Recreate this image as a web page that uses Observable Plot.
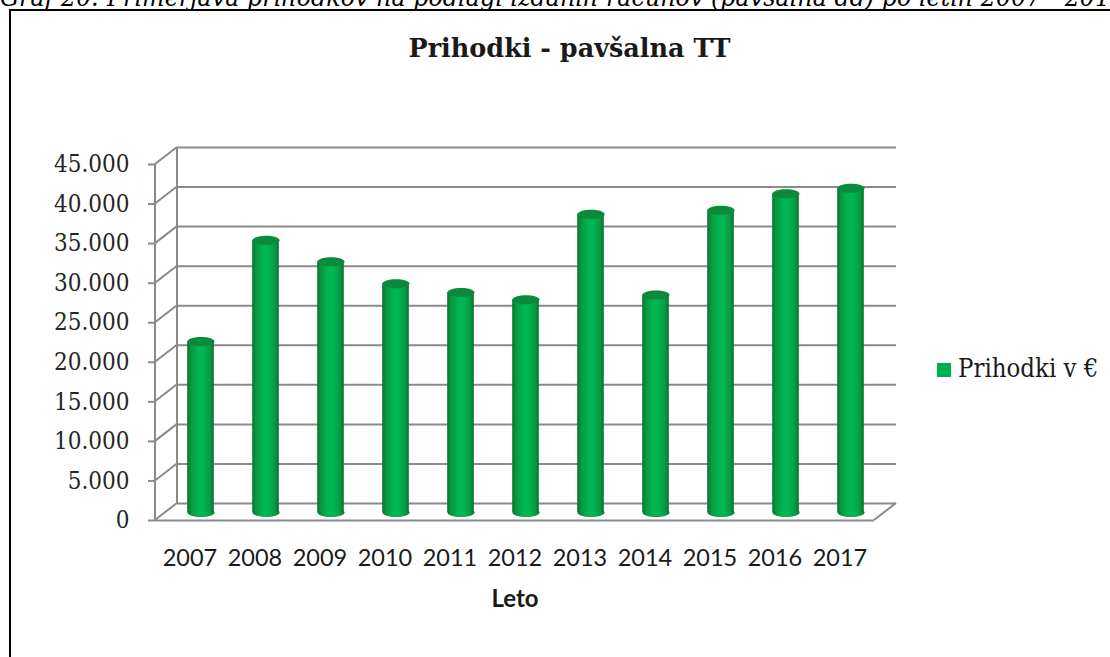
<!DOCTYPE html>
<html>
<head>
<meta charset="utf-8">
<script src="https://cdn.jsdelivr.net/npm/d3@7"></script>
<script src="https://cdn.jsdelivr.net/npm/@observablehq/plot@0.6"></script>
<style>
  html, body { margin: 0; padding: 0; background: #fff; }
  body { width: 1110px; height: 657px; overflow: hidden; position: relative; }
  #box { position: absolute; left: 9px; top: 9px; width: 1300px; height: 900px; border: 2px solid #000; box-sizing: border-box; }
  #cap { position: absolute; white-space: nowrap; font-family: "DejaVu Serif Condensed", "DejaVu Serif", serif; font-style: italic; line-height: 1; color: #000; font-size: 22px; }
  #title { position: absolute; left: 0; width: 1139px; text-align: center; font-family: "DejaVu Serif", serif; font-weight: bold; font-size: 25.5px; line-height: 1; top: 36px; color: #1a1a1a; }
  #chart { position: absolute; left: 0; top: 0; }
  #legend { position: absolute; left: 937px; top: 356px; font-family: "DejaVu Serif Condensed", "DejaVu Serif", serif; font-size: 25.5px; line-height: 1; color: #1a1a1a; white-space: nowrap; }
  #legend .sw { display: inline-block; width: 14px; height: 14px; background: #00b050; margin-right: 7px; vertical-align: 0px; }
</style>
</head>
<body>
<svg width="0" height="0" style="position:absolute">
  <defs>
    <linearGradient id="cyl" x1="0" x2="1" y1="0" y2="0">
      <stop offset="0" stop-color="#06742f"/>
      <stop offset="0.14" stop-color="#0a963f"/>
      <stop offset="0.42" stop-color="#00b552"/>
      <stop offset="0.6" stop-color="#00b552"/>
      <stop offset="0.86" stop-color="#089a42"/>
      <stop offset="1" stop-color="#06722f"/>
    </linearGradient>
  </defs>
</svg>
<div id="box"></div>
<div id="cap"><span id="capPre"></span><span id="capMid"></span><span id="capPost"></span></div>
<div id="title"></div>
<div id="chart"></div>
<div id="legend"><span class="sw"></span><span id="legendText"></span></div>
<script>
// ---- data ----
const captionPre = "Graf 20: ";
const captionMid = "Primerjava prihodkov na podlagi";
const captionPost = " izdanih računov (pavšalna dd) po letih 2007 - 2017";
const chartTitle = "Prihodki - pavšalna TT";
const seriesName = "Prihodki v €";
const xLabel = "Leto";
const years = ["2007", "2008", "2009", "2010", "2011", "2012", "2013", "2014", "2015", "2016", "2017"];
const revenues = [21600, 34400, 31700, 28900, 27800, 26900, 37700, 27500, 38200, 40300, 41000];
const yTicks = [0, 5000, 10000, 15000, 20000, 25000, 30000, 35000, 40000, 45000];

const data = years.map((year, i) => ({year, value: revenues[i]}));

// ---- text ----
document.getElementById("capPre").textContent = captionPre;
document.getElementById("capMid").textContent = captionMid;
document.getElementById("capPost").textContent = captionPost;
document.getElementById("title").textContent = chartTitle;
document.getElementById("legendText").textContent = seriesName;

// fit caption (only its lower part is visible, cut by the page top)
(function fitCaption() {
  const cap = document.getElementById("cap");
  const mid = document.getElementById("capMid");
  let fs = 22;
  cap.style.fontSize = fs + "px";
  const w = mid.getBoundingClientRect().width;
  fs = fs * 396 / w;
  cap.style.fontSize = fs + "px";
  const preW = document.getElementById("capPre").getBoundingClientRect().width;
  cap.style.left = (107 - preW) + "px";
  cap.style.top = (6.5 - 0.846 * fs) + "px";
})();

// ---- 3D look helpers ----
const GRID = "#8a8a8a";
const BACK_DX = 22, BACK_DY = -17;   // back wall offset
const BAR_DX = 11, BAR_DY = -8;      // bars sit mid-depth

const ellipse = {
  draw(ctx) {
    const rx = 13.5, ry = 4.5, k = 0.5523;
    ctx.moveTo(rx, 0);
    ctx.bezierCurveTo(rx, ry * k, rx * k, ry, 0, ry);
    ctx.bezierCurveTo(-rx * k, ry, -rx, ry * k, -rx, 0);
    ctx.bezierCurveTo(-rx, -ry * k, -rx * k, -ry, 0, -ry);
    ctx.bezierCurveTo(rx * k, -ry, rx, -ry * k, rx, 0);
    ctx.closePath();
  }
};

function frame3d(index, scales, values, dims) {
  const g = d3.create("svg:g").attr("stroke", GRID).attr("stroke-width", 2).attr("fill", "none");
  const x0 = dims.marginLeft, x1 = dims.width - dims.marginRight;
  const yTop = scales.y(yTicks[yTicks.length - 1]), yBot = scales.y(0);
  for (const t of yTicks) {
    const y = scales.y(t);
    g.append("line").attr("x1", x0).attr("y1", y).attr("x2", x0 + BACK_DX).attr("y2", y + BACK_DY);
  }
  g.append("line").attr("x1", x0 + BACK_DX).attr("y1", yTop + BACK_DY).attr("x2", x0 + BACK_DX).attr("y2", yBot + BACK_DY);
  g.append("line").attr("x1", x0).attr("y1", yTop).attr("x2", x0).attr("y2", yBot);
  g.append("line").attr("x1", x1).attr("y1", yBot).attr("x2", x1 + BACK_DX).attr("y2", yBot + BACK_DY);
  return g.node();
}

const fmt = d => d === 0 ? "0" : d3.format(",")(d).replace(/,/g, ".");

const chart = Plot.plot({
  width: 1110,
  height: 640,
  marginLeft: 155,
  marginRight: 236,
  marginTop: 164,
  marginBottom: 120,
  x: {type: "band", domain: years, padding: 0, axis: null},
  y: {domain: [0, 45000], axis: null},
  style: {background: "transparent", color: "#262626", overflow: "visible"},
  marks: [
    Plot.ruleY(yTicks, {dx: BACK_DX, dy: BACK_DY, stroke: GRID, strokeWidth: 2}),
    frame3d,
    Plot.ruleY([0], {stroke: GRID, strokeWidth: 2}),
    Plot.axisY(yTicks, {
      label: null,
      tickSize: 7, tickPadding: 19, tickFormat: fmt,
      stroke: GRID, strokeWidth: 2, fill: "#262626",
      fontSize: 24, fontFamily: "DejaVu Serif Condensed, DejaVu Serif, serif"
    }),
    Plot.axisX({
      label: null,
      tickSize: 0, tickPadding: 29, fill: "#1a1a1a",
      fontSize: 23.5, fontFamily: "Lato, sans-serif"
    }),
    Plot.dot(data, {x: "year", y: () => 0, symbol: ellipse, fill: "url(#cyl)", dx: BAR_DX, dy: BAR_DY}),
    Plot.barY(data, {x: "year", y: "value", fill: "url(#cyl)", dx: BAR_DX, dy: BAR_DY, insetLeft: 19.2, insetRight: 19.2}),
    Plot.dot(data, {x: "year", y: "value", symbol: ellipse, fill: "#0a8b3c", dx: BAR_DX, dy: BAR_DY}),
    Plot.text([xLabel], {frameAnchor: "bottom", dy: 86, fontSize: 24, fontWeight: "bold", fontFamily: "Lato, sans-serif", fill: "#1a1a1a"})
  ]
});
document.getElementById("chart").appendChild(chart);
</script>
</body>
</html>
